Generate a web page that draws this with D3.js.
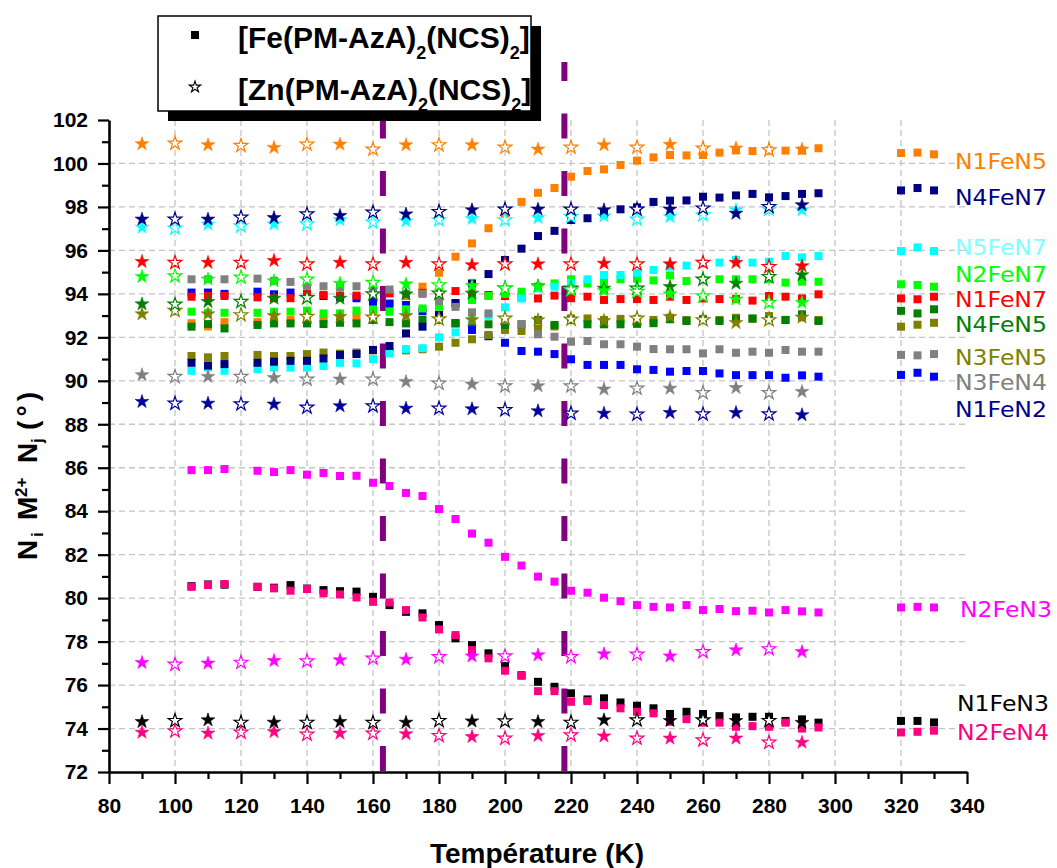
<!DOCTYPE html>
<html><head><meta charset="utf-8">
<script src="https://cdn.jsdelivr.net/npm/d3@7"></script>
<style>body{margin:0;background:#fff;} svg{display:block;}</style>
</head><body><svg id="chart" width="1057" height="868"></svg>
<script>
// ---------- DATA ----------
const tempFe = [105,110,115,125,130,135,140,145,150,155,160,165,170,175,180,185,190,195,200,205,210,215,220,225,230,235,240,245,250,255,260,265,270,275,280,285,290,295];
const tempZn = [90,100,110,120,130,140,150,160,170,180,190,200,210,220,230,240,250,260,270,280,290];
const tempKey = [320,325,330];
const xTicks = [80,100,120,140,160,180,200,220,240,260,280,300,320,340];
const yTicks = [72,74,76,78,80,82,84,86,88,90,92,94,96,98,100,102];
const transitionTemps = [163,218];

const seriesNames = ["N1FeN5","N4FeN7","N5FeN7","N2FeN7","N1FeN7","N4FeN5","N3FeN5","N3FeN4","N1FeN2","N2FeN3","N1FeN3","N2FeN4"];

const fe_N1FeN5 = [92.65,92.5,92.7,92.7,92.75,92.8,92.8,92.85,92.9,92.95,93.2,93.55,93.9,94.33,94.97,95.71,96.32,97.02,97.67,98.23,98.65,98.87,99.39,99.65,99.73,99.93,100.13,100.28,100.39,100.37,100.39,100.5,100.6,100.57,100.6,100.59,100.59,100.7];
const fe_N4FeN7 = [90.83,90.7,90.77,90.83,90.88,90.92,90.92,91.03,91.19,91.23,91.42,91.6,92.18,92.49,93.03,93.58,94.48,94.91,95.56,96.08,96.66,96.9,97.4,97.48,97.7,97.89,97.98,98.23,98.29,98.3,98.47,98.43,98.53,98.6,98.44,98.5,98.6,98.63];
const fe_N5FeN7 = [90.46,90.61,90.46,90.54,90.61,90.61,90.61,90.68,90.83,90.8,91.0,91.26,91.46,91.5,92.0,92.23,92.8,92.99,93.38,93.79,94.25,94.33,94.5,94.67,94.87,94.87,94.97,95.1,95.25,95.3,95.4,95.44,95.56,95.44,95.48,95.74,95.68,95.74];
const fe_N2FeN7 = [93.18,93.13,93.13,93.13,93.18,93.18,93.23,93.1,93.1,93.23,93.26,93.18,93.29,93.33,93.41,93.55,93.72,93.9,94.0,94.1,94.33,94.48,94.67,94.48,94.55,94.67,94.7,94.62,94.85,94.59,94.64,94.67,94.67,94.67,94.67,94.52,94.56,94.56];
const fe_N1FeN7 = [93.87,93.9,93.9,93.84,93.8,93.8,94.02,93.95,93.92,93.92,94.02,94.02,94.0,94.05,94.05,94.13,94.0,93.95,93.9,93.85,93.79,93.92,93.8,93.87,93.72,93.76,93.76,93.72,93.87,93.72,93.79,93.76,93.76,93.69,93.9,93.87,93.79,93.98];
const fe_N4FeN5 = [92.49,92.61,92.41,92.57,92.64,92.64,92.64,92.61,92.67,92.64,92.8,92.7,92.64,92.8,92.8,92.64,92.7,92.6,92.57,92.6,92.8,92.57,92.8,92.6,92.6,92.6,92.62,92.65,92.83,92.75,92.8,92.75,92.83,92.87,92.8,92.8,93.06,92.75];
const fe_N3FeN5 = [91.14,91.08,91.14,91.19,91.14,91.14,91.23,91.3,91.25,91.3,91.4,91.35,91.4,91.45,91.57,91.75,91.91,92.11,92.34,92.29,92.41,92.5,92.87,92.87,92.8,92.85,92.85,92.8,92.9,92.8,92.85,92.8,92.9,92.85,92.98,92.8,92.92,92.8];
const fe_N3FeN4 = [94.67,94.67,94.67,94.7,94.6,94.55,94.4,94.35,94.3,94.35,94.3,94.2,94.0,94.0,93.68,93.4,93.15,93.1,92.8,92.6,92.14,92.03,91.8,91.83,91.68,91.68,91.57,91.46,91.45,91.45,91.26,91.45,91.29,91.34,91.29,91.42,91.34,91.34];
const fe_N1FeN2 = [94.06,94.06,94.0,94.1,93.98,94.06,93.95,93.9,93.85,93.8,93.64,93.55,93.49,93.2,92.95,92.65,92.34,92.05,91.75,91.37,91.34,91.23,90.99,90.73,90.73,90.73,90.53,90.5,90.42,90.45,90.45,90.34,90.26,90.26,90.26,90.14,90.25,90.19];
const fe_N2FeN3 = [85.89,85.89,85.94,85.86,85.8,85.89,85.68,85.76,85.62,85.63,85.31,85.16,84.84,84.7,84.1,83.64,82.97,82.55,81.9,81.5,80.99,80.76,80.34,80.25,80.02,79.86,79.68,79.6,79.57,79.68,79.45,79.5,79.4,79.42,79.34,79.45,79.39,79.34];
const fe_N1FeN3 = [80.55,80.63,80.62,80.52,80.48,80.6,80.44,80.37,80.32,80.3,80.06,79.68,79.37,79.3,78.76,78.15,77.84,77.46,76.87,76.45,76.15,75.92,75.62,75.34,75.39,75.2,75.05,74.93,74.67,74.77,74.67,74.57,74.51,74.54,74.54,74.35,74.42,74.27];
const fe_N2FeN4 = [80.52,80.6,80.65,80.52,80.45,80.34,80.42,80.22,80.17,80.03,79.83,79.8,79.45,79.11,78.56,78.3,77.61,77.23,76.66,76.43,75.72,75.72,75.23,75.26,75.08,74.93,74.77,74.7,74.31,74.43,74.27,74.27,74.08,74.11,74.08,74.27,74.0,74.05];

const zn_N1FeN5 = [100.9,100.93,100.85,100.82,100.73,100.88,100.88,100.65,100.85,100.85,100.85,100.74,100.65,100.74,100.85,100.74,100.87,100.7,100.7,100.62,100.65];
const zn_N4FeN7 = [97.43,97.43,97.43,97.52,97.5,97.67,97.6,97.75,97.67,97.78,97.86,97.89,97.89,97.89,97.86,97.89,97.89,97.94,97.7,98.01,98.09];
const zn_N5FeN7 = [97.06,97.02,97.2,97.12,97.21,97.21,97.4,97.29,97.35,97.4,97.46,97.4,97.5,97.55,97.58,97.43,97.55,97.63,97.86,97.89,97.86];
const zn_N1FeN7 = [95.48,95.44,95.44,95.44,95.53,95.37,95.44,95.37,95.44,95.37,95.33,95.37,95.37,95.37,95.4,95.37,95.37,95.44,95.44,95.25,95.28];
const zn_N2FeN7 = [94.79,94.82,94.67,94.76,94.59,94.67,94.48,94.52,94.45,94.41,94.38,94.25,94.33,94.18,94.15,94.1,93.99,93.9,93.75,93.6,93.6];
const zn_N4FeN5 = [93.53,93.52,93.64,93.64,93.79,93.82,93.79,93.99,93.99,94.02,94.02,94.25,94.36,94.25,94.25,94.25,94.33,94.67,94.48,94.79,94.87];
const zn_N3FeN5 = [93.07,93.23,93.07,93.03,92.99,92.95,92.95,92.92,92.99,92.84,92.8,92.87,92.8,92.83,92.77,92.87,92.95,92.8,92.67,92.8,92.92];
const zn_N3FeN4 = [90.27,90.19,90.19,90.19,90.14,90.07,90.07,90.07,89.96,89.88,89.84,89.76,89.76,89.76,89.61,89.65,89.65,89.45,89.68,89.45,89.5];
const zn_N1FeN2 = [89.04,88.96,88.96,88.93,88.92,88.78,88.84,88.84,88.73,88.73,88.7,88.66,88.61,88.5,88.5,88.46,88.53,88.47,88.53,88.47,88.43];
const zn_N2FeN3 = [77.03,76.95,77.0,77.04,77.12,77.1,77.15,77.23,77.18,77.3,77.33,77.33,77.38,77.3,77.43,77.41,77.33,77.53,77.61,77.66,77.53];
const zn_N1FeN3 = [74.31,74.36,74.39,74.28,74.28,74.28,74.31,74.27,74.28,74.36,74.34,74.34,74.31,74.28,74.39,74.39,74.36,74.39,74.36,74.36,74.27];
const zn_N2FeN4 = [73.82,73.88,73.78,73.82,73.85,73.73,73.78,73.78,73.75,73.67,73.62,73.55,73.67,73.7,73.65,73.55,73.55,73.47,73.55,73.36,73.36];

const key_N1FeN5 = [100.48,100.5,100.42];
const key_N4FeN7 = [98.76,98.87,98.76];
const key_N5FeN7 = [95.97,96.14,95.97];
const key_N2FeN7 = [94.44,94.41,94.33];
const key_N1FeN7 = [93.79,93.75,93.87];
const key_N4FeN5 = [93.22,93.1,93.29];
const key_N3FeN5 = [92.49,92.58,92.67];
const key_N3FeN4 = [91.19,91.17,91.23];
const key_N1FeN2 = [90.27,90.37,90.19];
const key_N2FeN3 = [79.57,79.6,79.57];
const key_N1FeN3 = [74.35,74.35,74.28];
const key_N2FeN4 = [73.82,73.85,73.9];

// label anchor values (centre of each coloured label, in axis units)
const labelValues = [100.11,98.46,96.15,94.9,93.75,92.6,91.09,89.94,88.7,79.47,75.15,73.82];

// ---------- STYLE ----------
const colorsFe = {N1FeN5:"#FF8000",N4FeN7:"#000080",N5FeN7:"#00FFFF",N2FeN7:"#00FF00",N1FeN7:"#FF0000",N4FeN5:"#008000",N3FeN5:"#808000",N3FeN4:"#808080",N1FeN2:"#0000FF",N2FeN3:"#FF00FF",N1FeN3:"#000000",N2FeN4:"#FF0080"};
const colorsZn = Object.assign({}, colorsFe, {N1FeN2:"#00009C"});
const colorsLabel = Object.assign({}, colorsFe, {N5FeN7:"#80FFFF",N1FeN2:"#000090"});
const labelX = {N2FeN3:960,N1FeN3:957,N2FeN4:957};

const feData = {N1FeN5:fe_N1FeN5,N4FeN7:fe_N4FeN7,N5FeN7:fe_N5FeN7,N2FeN7:fe_N2FeN7,N1FeN7:fe_N1FeN7,N4FeN5:fe_N4FeN5,N3FeN5:fe_N3FeN5,N3FeN4:fe_N3FeN4,N1FeN2:fe_N1FeN2,N2FeN3:fe_N2FeN3,N1FeN3:fe_N1FeN3,N2FeN4:fe_N2FeN4};
const znData = {N1FeN5:zn_N1FeN5,N4FeN7:zn_N4FeN7,N5FeN7:zn_N5FeN7,N2FeN7:zn_N2FeN7,N1FeN7:zn_N1FeN7,N4FeN5:zn_N4FeN5,N3FeN5:zn_N3FeN5,N3FeN4:zn_N3FeN4,N1FeN2:zn_N1FeN2,N2FeN3:zn_N2FeN3,N1FeN3:zn_N1FeN3,N2FeN4:zn_N2FeN4};
const keyData = {N1FeN5:key_N1FeN5,N4FeN7:key_N4FeN7,N5FeN7:key_N5FeN7,N2FeN7:key_N2FeN7,N1FeN7:key_N1FeN7,N4FeN5:key_N4FeN5,N3FeN5:key_N3FeN5,N3FeN4:key_N3FeN4,N1FeN2:key_N1FeN2,N2FeN3:key_N2FeN3,N1FeN3:key_N1FeN3,N2FeN4:key_N2FeN4};
const drawOrder = ["N1FeN3","N2FeN4","N2FeN3","N1FeN5","N1FeN2","N1FeN7","N3FeN5","N4FeN5","N2FeN7","N5FeN7","N4FeN7","N3FeN4"];

// ---------- CHART ----------
const svg = d3.select("#chart");
const FONT = "'Liberation Sans', Arial, Helvetica, sans-serif";
const x = d3.scaleLinear().domain([80,340]).range([109,967]);
const y = d3.scaleLinear().domain([72,102]).range([772,120]);

// grid
const grid = svg.append("g").attr("stroke","#C4C4C4").attr("stroke-width",1.3).attr("stroke-dasharray","6,4");
grid.selectAll("line.v").data(xTicks.filter(t=>t>80 && t<340)).join("line")
  .attr("x1",d=>x(d)).attr("x2",d=>x(d)).attr("y1",y(102)).attr("y2",y(72));
grid.selectAll("line.h").data(yTicks.filter(t=>t>72 && t<102)).join("line")
  .attr("class","h").attr("x1",x(80)).attr("x2",x(340)).attr("y1",d=>y(d)).attr("y2",d=>y(d));

// transition lines
svg.append("g").selectAll("line").data(transitionTemps).join("line")
  .attr("x1",d=>x(d)).attr("x2",d=>x(d)).attr("y1",y(72)-1).attr("y2",y(102)-58)
  .attr("stroke","#800080").attr("stroke-width",6).attr("stroke-dasharray","25,32.5");

// Fe squares
const SQ = 8;
const gFe = svg.append("g");
drawOrder.forEach(name=>{
  const pts = tempFe.map((t,i)=>({t,v:feData[name][i]}));
  const kp = tempKey.map((t,i)=>({t,v:keyData[name][i]}));
  gFe.append("g").attr("fill",colorsFe[name]).selectAll("rect").data(pts.concat(kp)).join("rect")
    .attr("x",d=>x(d.t)-SQ/2).attr("y",d=>y(d.v)-SQ/2).attr("width",SQ).attr("height",SQ);
});

// Zn stars (alternating filled / open)
const star = d3.symbol().type(d3.symbolStar).size(58);
const gZn = svg.append("g");
drawOrder.forEach(name=>{
  const pts = tempZn.map((t,i)=>({t,v:znData[name][i],open:i%2===1}));
  gZn.append("g").selectAll("path").data(pts).join("path")
    .attr("d",star).attr("transform",d=>`translate(${x(d.t)},${y(d.v)})`)
    .attr("fill",d=>d.open?"#fff":colorsZn[name])
    .attr("stroke",colorsZn[name]).attr("stroke-width",d=>d.open?1.2:0.6);
});

// axes
const xAxis = svg.append("g").attr("transform",`translate(0,${y(72)})`)
  .call(d3.axisBottom(x).tickValues(xTicks).tickSize(12).tickSizeOuter(0).tickPadding(14).tickFormat(d3.format("d")));
const xMinor = svg.append("g").attr("transform",`translate(0,${y(72)})`)
  .call(d3.axisBottom(x).tickValues(xTicks.slice(0,-1).map(t=>t+10)).tickSize(7).tickSizeOuter(0).tickFormat(""));
const yAxis = svg.append("g").attr("transform",`translate(${x(80)},0)`)
  .call(d3.axisLeft(y).tickValues(yTicks).tickSize(11).tickSizeOuter(0).tickPadding(10).tickFormat(d3.format("d")));
const yMinor = svg.append("g").attr("transform",`translate(${x(80)},0)`)
  .call(d3.axisLeft(y).tickValues(yTicks.slice(0,-1).map(t=>t+1)).tickSize(7).tickSizeOuter(0).tickFormat(""));
xMinor.select(".domain").remove(); yMinor.select(".domain").remove();
[xAxis,yAxis,xMinor,yMinor].forEach(a=>{
  a.selectAll("line").attr("stroke","#000").attr("stroke-width",2.2);
  a.selectAll(".domain").attr("stroke","#000").attr("stroke-width",2.6);
});
[xAxis,yAxis].forEach(a=>a.selectAll("text").attr("font-family",FONT).attr("font-weight","bold").attr("font-size",21).attr("fill","#000"));

// series labels
svg.append("g").selectAll("text").data(seriesNames).join("text")
  .attr("x",d=>labelX[d]||955).attr("y",(d,i)=>y(labelValues[i])+7.6)
  .attr("fill",d=>colorsLabel[d]).attr("font-family","'DejaVu Sans', sans-serif").attr("font-size",21)
  .attr("textLength",92).attr("lengthAdjust","spacingAndGlyphs")
  .text(d=>d);

// axis titles
svg.append("text").attr("x",537).attr("y",863).attr("text-anchor","middle")
  .attr("font-family",FONT).attr("font-weight","bold").attr("font-size",28).text("Température (K)");

const yt = svg.append("text").attr("transform","translate(37,560) rotate(-90)")
  .attr("font-family",FONT).attr("font-weight","bold").attr("font-size",28);
yt.append("tspan").attr("x",0).attr("y",0).text("N");
yt.append("tspan").attr("x",23).attr("y",6).attr("font-size",17).text("i");
yt.append("tspan").attr("x",40).attr("y",0).text("M");
yt.append("tspan").attr("x",63).attr("y",-10).attr("font-size",17).text("2+");
yt.append("tspan").attr("x",97).attr("y",0).text("N");
yt.append("tspan").attr("x",117).attr("y",6).attr("font-size",17).text("j");
yt.append("tspan").attr("x",130).attr("y",0).attr("textLength",38).text("(°)");

// legend
const lg = svg.append("g");
lg.append("rect").attr("x",168).attr("y",26).attr("width",373).attr("height",95).attr("fill","#000");
lg.append("rect").attr("x",158).attr("y",16).attr("width",373).attr("height",95).attr("fill","#fff").attr("stroke","#000").attr("stroke-width",1.5);
lg.append("rect").attr("x",191).attr("y",31).attr("width",8).attr("height",8).attr("fill","#000");
lg.append("path").attr("d",d3.symbol().type(d3.symbolStar).size(40)).attr("transform","translate(195,87)")
  .attr("fill","#fff").attr("stroke","#000").attr("stroke-width",1.1);
const legendRows = [["[Fe(PM-AzA)","(NCS)","]"],["[Zn(PM-AzA)","(NCS)","]"]];
legendRows.forEach((parts,i)=>{
  const t = lg.append("text").attr("x",238).attr("y",48+52*i).attr("font-family",FONT).attr("font-weight","bold").attr("font-size",30).attr("fill","#000");
  t.append("tspan").text(parts[0]);
  t.append("tspan").attr("dy",11).attr("font-size",18).text("2");
  t.append("tspan").attr("dy",-11).text(parts[1]);
  t.append("tspan").attr("dy",11).attr("font-size",18).text("2");
  t.append("tspan").attr("dy",-11).text(parts[2]);
});
</script></body></html>
